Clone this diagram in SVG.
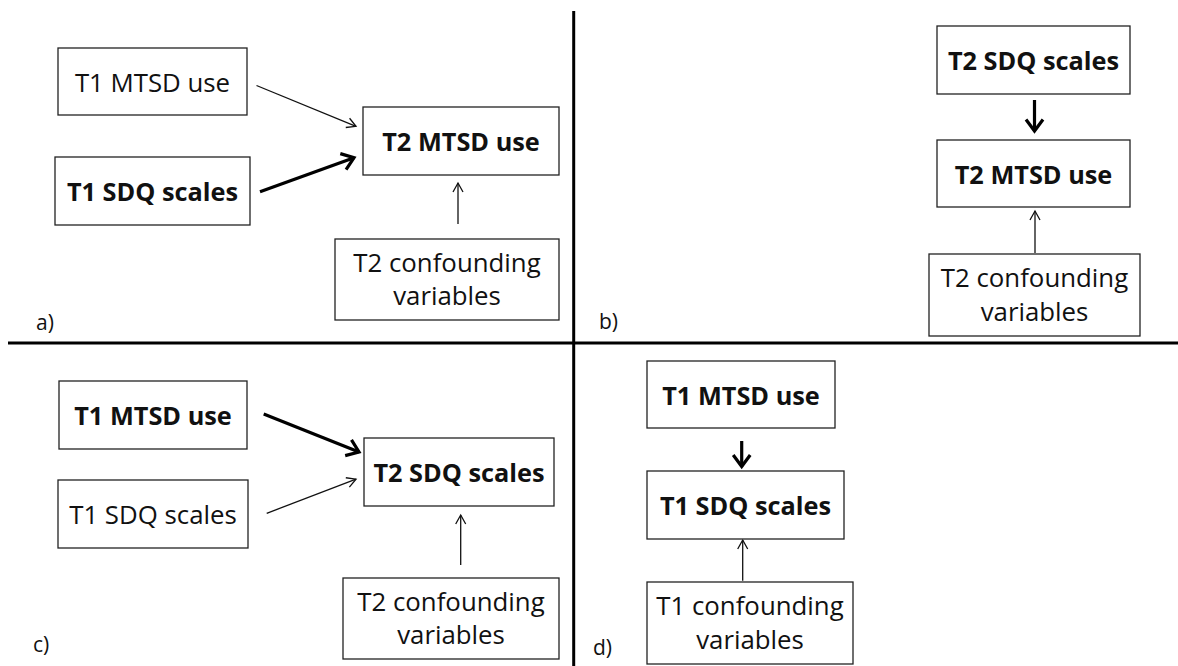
<svg xmlns="http://www.w3.org/2000/svg" width="1178" height="666" viewBox="0 0 1178 666">
<style>
.box{fill:#fff;stroke:#222;stroke-width:1.3}
.t{font-family:'Open Sans','Liberation Sans',sans-serif;font-size:25.8px;text-anchor:middle;fill:#111}
.bd{font-weight:bold;font-size:25.3px}
.lbl{font-family:'Open Sans','Liberation Sans',sans-serif;font-size:21px;fill:#111}
.div{stroke:#000;stroke-width:3}
.thin{stroke:#111;stroke-width:1.3;fill:none}
.thick{stroke:#000;stroke-width:3.2;fill:none}
</style>
<defs>
<marker id="ah" markerUnits="userSpaceOnUse" markerWidth="12" markerHeight="12" refX="9.5" refY="5.5" orient="auto" overflow="visible">
<path d="M0.5,0.5 L9.5,5.5 L0.5,10.5" fill="none" stroke="#111" stroke-width="1.3"/>
</marker>
<marker id="ahb" markerUnits="userSpaceOnUse" markerWidth="16" markerHeight="18" refX="12" refY="8.5" orient="auto" overflow="visible">
<path d="M0.5,0 L12,8.5 L0.5,17" fill="none" stroke="#000" stroke-width="3.2"/>
</marker>
</defs>
<rect width="1178" height="666" fill="#fff"/>
<g id="dividers">
<line class="div" x1="573.7" y1="11" x2="573.7" y2="666"/>
<line class="div" x1="8" y1="343" x2="1178" y2="343"/>
</g>
<g id="connectors">
<line class="thin" x1="256.5" y1="85.5" x2="356" y2="126.3" marker-end="url(#ah)"/>
<line class="thick" x1="260" y1="191.7" x2="354" y2="157.7" marker-end="url(#ahb)"/>
<line class="thin" x1="458" y1="224" x2="458" y2="183" marker-end="url(#ah)"/>
<line class="thick" x1="1034.5" y1="100" x2="1034.5" y2="131" marker-end="url(#ahb)"/>
<line class="thin" x1="1035" y1="253" x2="1035" y2="211" marker-end="url(#ah)"/>
<line class="thick" x1="263.7" y1="414" x2="359" y2="452" marker-end="url(#ahb)"/>
<line class="thin" x1="266.7" y1="513.3" x2="356" y2="479.2" marker-end="url(#ah)"/>
<line class="thin" x1="460.7" y1="565" x2="460.7" y2="515" marker-end="url(#ah)"/>
<line class="thick" x1="741.7" y1="441" x2="741.7" y2="466.5" marker-end="url(#ahb)"/>
<line class="thin" x1="742.7" y1="580.7" x2="742.7" y2="540" marker-end="url(#ah)"/>
</g>
<g id="a_T1_MTSD"><rect class="box" x="58" y="48" width="189" height="67"/><text class="t" x="152.5" y="91.5">T1 MTSD use</text></g>
<g id="a_T1_SDQ"><rect class="box" x="55" y="157" width="195" height="68"/><text class="t bd" x="152.5" y="201">T1 SDQ scales</text></g>
<g id="a_T2_MTSD"><rect class="box" x="363" y="107" width="196" height="68"/><text class="t bd" x="461" y="151">T2 MTSD use</text></g>
<g id="a_T2_conf"><rect class="box" x="335" y="239" width="224" height="81"/><text class="t" x="447" y="271.7">T2 confounding</text><text class="t" x="447" y="305">variables</text></g>
<text class="lbl" x="36" y="330">a)</text>
<g id="b_T2_SDQ"><rect class="box" x="937" y="26" width="193" height="68"/><text class="t bd" x="1033.5" y="70">T2 SDQ scales</text></g>
<g id="b_T2_MTSD"><rect class="box" x="937" y="140" width="193" height="67"/><text class="t bd" x="1033.5" y="183.5">T2 MTSD use</text></g>
<g id="b_T2_conf"><rect class="box" x="929" y="254" width="211" height="82"/><text class="t" x="1034.5" y="287">T2 confounding</text><text class="t" x="1034.5" y="320.5">variables</text></g>
<text class="lbl" x="599" y="329">b)</text>
<g id="c_T1_MTSD"><rect class="box" x="59" y="381" width="188" height="68"/><text class="t bd" x="153" y="425">T1 MTSD use</text></g>
<g id="c_T1_SDQ"><rect class="box" x="58" y="480" width="190" height="68"/><text class="t" x="153" y="524">T1 SDQ scales</text></g>
<g id="c_T2_SDQ"><rect class="box" x="364" y="438" width="190" height="68"/><text class="t bd" x="459" y="482">T2 SDQ scales</text></g>
<g id="c_T2_conf"><rect class="box" x="343" y="578" width="216" height="81"/><text class="t" x="451" y="610.7">T2 confounding</text><text class="t" x="451" y="644">variables</text></g>
<text class="lbl" x="33" y="652">c)</text>
<g id="d_T1_MTSD"><rect class="box" x="647" y="361" width="188" height="67"/><text class="t bd" x="741" y="404.5">T1 MTSD use</text></g>
<g id="d_T1_SDQ"><rect class="box" x="647" y="471" width="197" height="68"/><text class="t bd" x="745.5" y="515">T1 SDQ scales</text></g>
<g id="d_T1_conf"><rect class="box" x="647" y="582" width="206" height="82"/><text class="t" x="750" y="615">T1 confounding</text><text class="t" x="750" y="648.5">variables</text></g>
<text class="lbl" x="593" y="655">d)</text>
</svg>
